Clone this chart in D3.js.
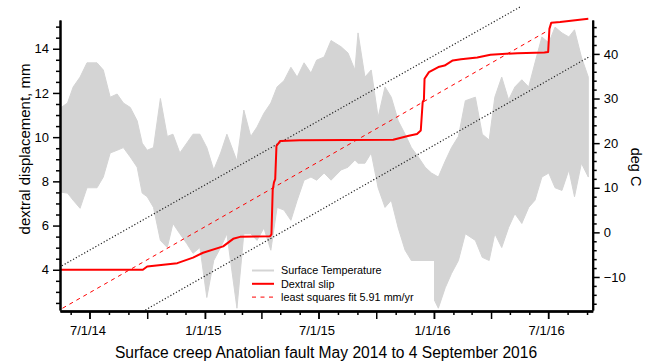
<!DOCTYPE html>
<html>
<head>
<meta charset="utf-8">
<script src="https://cdn.jsdelivr.net/npm/d3@7"></script>
<style>
  body { margin: 0; background: #fff; }
  text { font-family: "Liberation Sans", Arial, Helvetica, sans-serif; fill: #000; }
</style>
</head>
<body>
<svg id="chart" width="645" height="364"></svg>
<script>
// dextral slip, mm
const slipDates = ["2014-05-15","2014-09-24","2014-10-01","2014-11-18","2014-12-13","2014-12-29",
  "2015-01-30","2015-02-15","2015-02-26","2015-04-15","2015-04-17","2015-04-19","2015-04-21",
  "2015-04-23","2015-04-25","2015-05-01","2015-06-01","2015-10-28","2015-11-22","2015-12-05",
  "2015-12-11","2015-12-14","2015-12-16","2015-12-17","2015-12-24","2016-01-08","2016-01-18",
  "2016-01-31","2016-02-13","2016-03-10","2016-03-31","2016-05-13","2016-06-25","2016-07-01",
  "2016-07-03","2016-07-06","2016-07-20","2016-09-03"];
const slipValues = [4.0,4.0,4.15,4.3,4.55,4.77,
  5.06,5.4,5.49,5.52,5.6,7.6,7.95,
  8.1,9.6,9.83,9.86,9.88,10.06,10.14,
  10.3,11.58,11.7,12.64,12.94,13.17,13.24,
  13.47,13.52,13.6,13.73,13.8,13.83,13.85,
  14.9,15.18,15.21,15.36];

// surface temperature envelope, deg C
const tempDates = ["2014-05-17","2014-05-27","2014-06-05","2014-06-16","2014-06-27","2014-07-13",
  "2014-07-23","2014-08-03","2014-08-14","2014-08-24","2014-09-04","2014-09-15","2014-09-23",
  "2014-10-01","2014-10-11","2014-10-22","2014-11-02","2014-11-11","2014-11-22","2014-12-03",
  "2014-12-13","2014-12-24","2015-01-04","2015-01-15","2015-01-26","2015-02-05","2015-02-21",
  "2015-03-04","2015-03-15","2015-03-25","2015-04-05","2015-04-16","2015-04-26","2015-05-07",
  "2015-05-18","2015-05-28","2015-06-08","2015-06-19","2015-06-28","2015-07-10","2015-07-21",
  "2015-08-06","2015-08-17","2015-08-28","2015-09-02","2015-09-13","2015-09-23","2015-10-04",
  "2015-10-15","2015-10-25","2015-11-05","2015-11-16","2015-11-26","2015-12-07","2015-12-18",
  "2015-12-28","2016-01-08","2016-01-19","2016-01-29","2016-02-09","2016-02-20","2016-03-07",
  "2016-03-18","2016-03-29","2016-04-07","2016-04-18","2016-04-29","2016-05-09","2016-05-20",
  "2016-05-31","2016-06-10","2016-06-21","2016-07-02","2016-07-12","2016-07-23","2016-08-03",
  "2016-08-12","2016-08-23","2016-09-03"];
const tempMax = [28,29,32.6,34.8,38,38,
  36.4,30.3,31,29,28,25,20,
  18.4,19,30,21.5,22,17.8,20,
  22,22,19,14,17.8,22,16,
  27.4,21.5,23.6,26.7,29,32.6,34,
  37,34.8,38,35.7,38.6,39.3,43,
  41.6,40.2,36.4,44.7,34.8,36.4,25.8,
  32.6,30.3,25,22,19,16.9,14.6,
  13.3,12.4,16,19,21.5,29.5,30.3,
  22,20.7,30.3,34.8,29.7,32.6,34.2,
  32.6,38,43.8,42.5,46,44.7,43.8,
  45.4,39.3,34.8];
const tempMin = [9,8.8,7.2,5.4,10,10,
  12.4,17.8,18.4,19,16.9,14.6,8.8,
  8,5.6,-1.8,-3.4,2,-0.3,-2.5,
  -4.7,-3.4,-14.6,-6.3,-3.4,-0.3,-17,
  -0.3,-0.3,-1.8,1,-4,5.6,5,
  2.7,7.2,11.7,12.4,11.7,13.3,11.7,
  14,14.6,16.2,15.5,15.5,17.8,10,
  5.6,7.2,1,-4,-6.3,-9.2,-11.5,
  -13.8,-17,-12.4,-9.2,-6.3,-0.3,-1.8,
  -5.6,-6.3,-0.3,-3.4,1.1,4.2,2,
  5.6,7.2,12.4,13.3,10,9.4,14,
  8,15.5,12.4];

// least squares fit and its bounds
const fitDates = ["2014-05-19","2016-06-27"];
const fitValues = [2.26, 14.76];
const upperDates = ["2014-05-18","2016-05-18"];
const upperValues = [4.18, 15.9];
const lowerDates = ["2014-09-28","2016-09-06"];
const lowerValues = [2.18, 13.66];

const leftTicks = [4, 6, 8, 10, 12, 14];
const rightTicks = [-10, 0, 10, 20, 30, 40];
const dateTicks = ["2014-07-01","2015-01-01","2015-07-01","2016-01-01","2016-07-01"];
const dateLabels = ["7/1/14","1/1/15","7/1/15","1/1/16","7/1/16"];
const legendLabels = ["Surface Temperature", "Dextral slip", "least squares fit 5.91 mm/yr"];

const parse = d3.timeParse("%Y-%m-%d");
const svg = d3.select("#chart");

const plotL = 60, plotR = 592.7, plotT = 20, plotB = 310;

const x = d3.scaleTime()
    .domain([parse("2014-05-15"), parse("2016-09-10")])
    .range([plotL, plotR]);
const y = d3.scaleLinear().domain([2.18, 15.3]).range([plotB, plotT]);
const yT = d3.scaleLinear().domain([-17.4, 47.6]).range([plotB, plotT]);

// temperature
const temp = tempDates.map((d, i) => ({date: parse(d), max: tempMax[i], min: tempMin[i]}));
svg.append("path")
    .datum(temp)
    .attr("fill", "#d4d4d4")
    .attr("stroke", "#d4d4d4")
    .attr("stroke-width", 1)
    .attr("d", d3.area().x(d => x(d.date)).y0(d => yT(d.min)).y1(d => yT(d.max)));

const line = d3.line().x(d => x(d.date)).y(d => y(d.v));
const pts = (ds, vs) => ds.map((d, i) => ({date: parse(d), v: vs[i]}));

// dotted bounds
[[upperDates, upperValues], [lowerDates, lowerValues]].forEach(b => {
  svg.append("path")
      .datum(pts(b[0], b[1]))
      .attr("fill", "none")
      .attr("stroke", "#222")
      .attr("stroke-width", 1.2)
      .attr("stroke-dasharray", "1.2,2")
      .attr("d", line);
});

// fit
svg.append("path")
    .datum(pts(fitDates, fitValues))
    .attr("fill", "none")
    .attr("stroke", "#ff0000")
    .attr("stroke-width", 1)
    .attr("stroke-dasharray", "4,4")
    .attr("d", line);

// slip
svg.append("path")
    .datum(pts(slipDates, slipValues))
    .attr("fill", "none")
    .attr("stroke", "#ff0000")
    .attr("stroke-width", 2)
    .attr("stroke-linejoin", "round")
    .attr("d", line);

// axes
function styleAxis(g) {
  g.select(".domain").attr("stroke-width", 2);
  g.selectAll(".tick line").attr("stroke-width", 1.5);
  g.selectAll(".tick text").attr("font-size", "13px")
      .attr("font-family", '"Liberation Sans", Arial, sans-serif');
}

const leftMinor = d3.range(2.5, 15.01, 0.5).filter(v => v % 2 !== 0);
svg.append("g").attr("transform", `translate(${plotL},0)`)
    .call(d3.axisLeft(y).tickValues(leftMinor).tickSize(4).tickSizeOuter(0).tickFormat(""))
    .call(styleAxis);
svg.append("g").attr("transform", `translate(${plotL},0)`)
    .call(d3.axisLeft(y).tickValues(leftTicks).tickSize(7).tickSizeOuter(0).tickPadding(4))
    .call(styleAxis);

const rightMinor = d3.range(-16, 47, 2).filter(v => v % 10 !== 0);
svg.append("g").attr("transform", `translate(${plotR},0)`)
    .call(d3.axisRight(yT).tickValues(rightMinor).tickSize(4).tickSizeOuter(0).tickFormat(""))
    .call(styleAxis);
svg.append("g").attr("transform", `translate(${plotR},0)`)
    .call(d3.axisRight(yT).tickValues(rightTicks).tickSize(7).tickSizeOuter(0).tickPadding(4))
    .call(styleAxis);

const months = d3.timeMonth.range(parse("2014-06-01"), parse("2016-09-02"));
const quarters = months.filter(m => m.getMonth() % 3 === 0);
const monthly = months.filter(m => m.getMonth() % 3 !== 0);
const xb = plotB + 1;
svg.append("g").attr("transform", `translate(0,${xb})`)
    .call(d3.axisBottom(x).tickValues(monthly).tickSize(4).tickSizeOuter(0).tickFormat(""))
    .call(styleAxis);
svg.append("g").attr("transform", `translate(0,${xb})`)
    .call(d3.axisBottom(x).tickValues(quarters).tickSize(8).tickSizeOuter(0).tickFormat(""))
    .call(styleAxis);
const labelDates = dateTicks.map(parse);
svg.append("g").attr("transform", `translate(0,${xb})`)
    .call(d3.axisBottom(x).tickValues(labelDates).tickSize(8).tickSizeOuter(0).tickPadding(7)
      .tickFormat((d, i) => dateLabels[i]))
    .call(styleAxis)
    .selectAll(".tick text").attr("dx", -2);

// axis titles
svg.append("text")
    .attr("transform", "translate(30,149) rotate(-90)")
    .attr("text-anchor", "middle")
    .attr("font-size", "15px")
    .text("dextral displacement, mm");
svg.append("text")
    .attr("transform", "translate(631,167) rotate(90)")
    .attr("text-anchor", "middle")
    .attr("font-size", "14.5px")
    .text("deg C");
svg.append("text")
    .attr("x", 326).attr("y", 358)
    .attr("text-anchor", "middle")
    .attr("font-size", "15.6px")
    .text("Surface creep Anatolian fault May 2014 to 4 September 2016");

// legend
const lg = svg.append("g");
lg.append("rect").attr("x", 246).attr("y", 261).attr("width", 188).attr("height", 45).attr("fill", "#fff");
const legendStyles = [
  {stroke: "#d4d4d4", width: 2, dash: null},
  {stroke: "#ff0000", width: 2, dash: null},
  {stroke: "#ff0000", width: 1, dash: "4,4.5"}
];
legendLabels.forEach((t, i) => {
  const yy = 270.5 + i * 13.3;
  lg.append("line").attr("x1", 252).attr("x2", 274).attr("y1", yy).attr("y2", yy)
      .attr("stroke", legendStyles[i].stroke)
      .attr("stroke-width", legendStyles[i].width)
      .attr("stroke-dasharray", legendStyles[i].dash);
  lg.append("text").attr("x", 281).attr("y", yy + 3.8)
      .attr("font-size", "10.8px")
      .text(t);
});
</script>
</body>
</html>
